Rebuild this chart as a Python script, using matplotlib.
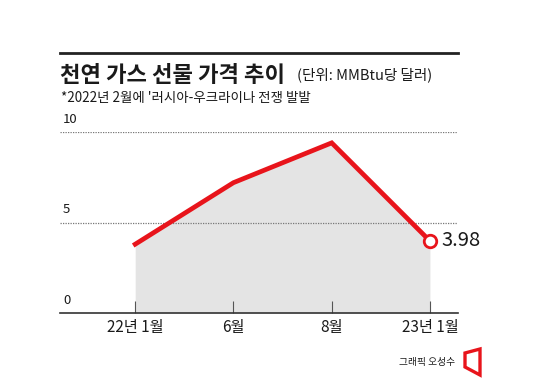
import matplotlib.pyplot as plt
from matplotlib.patches import Polygon

plt.rcParams['font.family'] = ['Noto Sans CJK KR', 'DejaVu Sans']

# 데이터
meses = ['22년 1월', '6월', '8월', '23년 1월']
precos = [3.8, 7.2, 9.4, 3.98]
yticks = [0, 5, 10]

vermelho = '#e8141b'
texto = '#1a1a1a'

fig = plt.figure(figsize=(5.5, 3.8), dpi=100)
ax = fig.add_axes([60/550, 1-313/380, 398/550, (313-132)/380])

x = range(len(meses))
ax.fill_between(x, precos, 0, color='#e4e4e4', lw=0)
ax.plot(x, precos, color=vermelho, lw=3.4, solid_joinstyle='miter', clip_on=False, zorder=3)
ax.plot(x[-1], precos[-1], 'o', ms=9, mfc='white', mec=vermelho, mew=2, clip_on=False, zorder=4)
ax.text(x[-1] + 0.12, precos[-1], f'{precos[-1]:.2f}', fontsize=14.5, va='center', ha='left',
        color=texto)

ax.set_xlim(-75/98, 3 + 28/98)
ax.set_ylim(0, 10)

for v in yticks[1:]:
    ax.axhline(v, color='#777777', lw=0.9, ls=(0, (1, 1)), zorder=1)
for v in yticks:
    ax.text(-75/98 + 0.03, v + 0.35, str(v), fontsize=9.5, color=texto, va='bottom', ha='left')

ax.set_yticks([])
ax.set_xticks(list(x))
ax.set_xticklabels(meses, fontsize=11, color=texto)
ax.tick_params(axis='x', direction='in', length=9, width=0.8, color='#555555', pad=4)
for s in ['top', 'right', 'left']:
    ax.spines[s].set_visible(False)
ax.spines['bottom'].set_color('#333333')
ax.spines['bottom'].set_linewidth(1.2)
ax.set_facecolor('none')

# títulos
fig.add_artist(plt.Line2D([60/550, 458/550], [1-53/380, 1-53/380], color='#222222', lw=2))
fig.text(60/550, 1-75/380, '천연 가스 선물 가격 추이', fontsize=16, fontweight='bold',
         color=texto, va='center', ha='left')
fig.text(297/550, 1-75/380, '(단위: MMBtu당 달러)', fontsize=10.5, color=texto, va='center', ha='left')
fig.text(61/550, 1-98/380, "*2022년 2월에 '러시아-우크라이나 전쟁 발발", fontsize=9.7, color=texto,
         va='center', ha='left')

# crédito
fig.text(455/550, 1-362/380, '그래픽 오성수', fontsize=7, color=texto, va='center', ha='right')
icone = Polygon([(465/550, 1-353/380), (480/550, 1-349/380), (480/550, 1-375/380), (465/550, 1-367/380)],
                closed=True, fill=False, edgecolor=vermelho, lw=2.4, transform=fig.transFigure)
fig.add_artist(icone)

fig.savefig('out.png', dpi=100)
